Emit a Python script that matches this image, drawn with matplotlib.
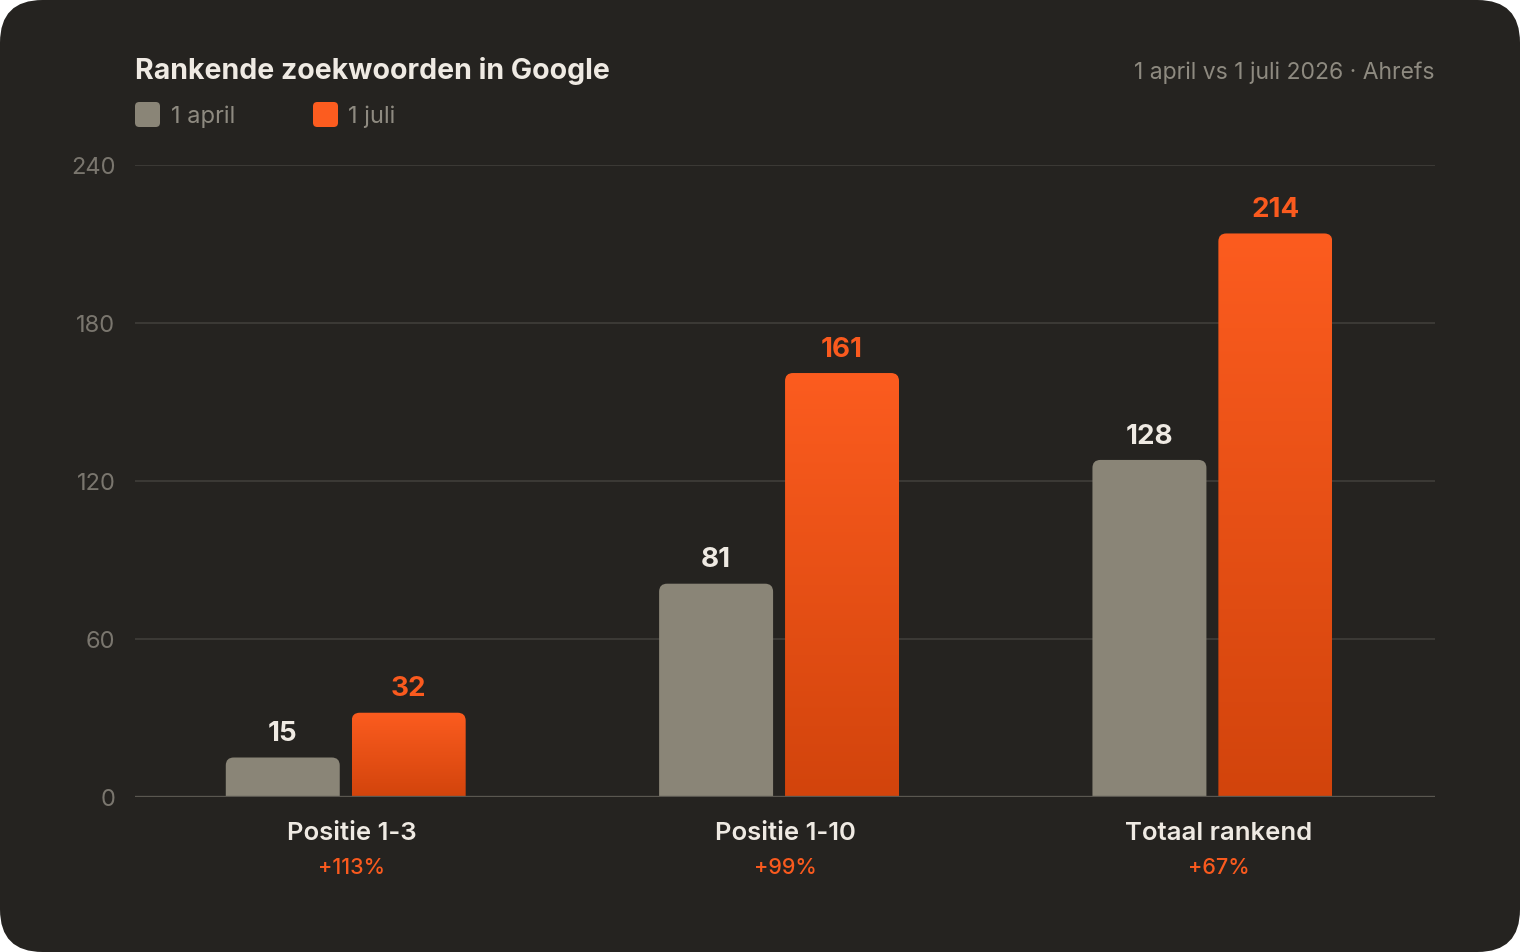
import numpy as np
import matplotlib.pyplot as plt
from matplotlib.patches import FancyBboxPatch, PathPatch
from matplotlib.path import Path
from matplotlib.colors import LinearSegmentedColormap

plt.rcParams['font.family'] = ['Inter', 'DejaVu Sans']

# data
categories = ["Positie 1-3", "Positie 1-10", "Totaal rankend"]
april = [15, 81, 128]
juli = [32, 161, 214]
growth = ["+113%", "+99%", "+67%"]
yticks = [0, 60, 120, 180, 240]

BG = "#252320"
GRAY = "#8A8577"
ORANGE = "#FA5A1E"
TEXT = "#EFEAE3"
MUTED = "#8E8A80"

fig = plt.figure(figsize=(15.2, 9.52), dpi=100, facecolor="white")
# dark card with rounded corners, behind everything
card = FancyBboxPatch((0, 0), 1, 1, boxstyle="round,pad=0,rounding_size=0.028",
                      transform=fig.transFigure, facecolor=BG, edgecolor="none",
                      mutation_aspect=1520 / 952, zorder=-10)
fig.add_artist(card)

ax = fig.add_axes([135 / 1520, 1 - 797 / 952, 1300 / 1520, 632 / 952])
ax.set_facecolor("none")
ax.set_xlim(-0.5, 2.5)
ax.set_ylim(0, 240)

for s in ax.spines.values():
    s.set_visible(False)
ax.set_yticks(yticks)
ax.set_yticklabels([str(t) for t in yticks], fontsize=17, color="#7A766E")
ax.tick_params(axis="y", length=0, pad=14)
ax.set_xticks([])
for t in yticks[1:]:
    ax.axhline(t, color="#3B3935", lw=1.5, zorder=0)
ax.axhline(0, color="#5A5750", lw=2.4, zorder=5)

bw = 0.263
rx = 8 / 433.3
ry = 8 / (632 / 240)
cmap = LinearSegmentedColormap.from_list("og", ["#D2440C", "#FC5C1F"])
grad = np.linspace(0, 1, 256).reshape(-1, 1)


def top_round_bar(x0, x1, h):
    verts = [(x0, 0), (x0, h - ry), (x0, h), (x0 + rx, h), (x1 - rx, h),
             (x1, h), (x1, h - ry), (x1, 0), (x0, 0)]
    codes = [Path.MOVETO, Path.LINETO, Path.CURVE3, Path.CURVE3, Path.LINETO,
             Path.CURVE3, Path.CURVE3, Path.LINETO, Path.CLOSEPOLY]
    return Path(verts, codes)


for i, (a, j) in enumerate(zip(april, juli)):
    # april bar
    xc = i - 0.159
    p = PathPatch(top_round_bar(xc - bw / 2, xc + bw / 2, a), facecolor=GRAY,
                  edgecolor="none", zorder=3)
    ax.add_patch(p)
    ax.annotate(str(a), (xc, a), xytext=(0, 16.8), textcoords="offset points",
                ha="center", va="center", fontsize=20, fontweight="bold", color=TEXT)
    # juli bar with gradient
    xc = i + 0.1316
    p = PathPatch(top_round_bar(xc - bw / 2, xc + bw / 2, j), facecolor="none",
                  edgecolor="none", zorder=3)
    ax.add_patch(p)
    im = ax.imshow(grad, extent=[xc - bw / 2, xc + bw / 2, 0, j], origin="lower",
                   cmap=cmap, aspect="auto", zorder=3)
    im.set_clip_path(p)
    ax.annotate(str(j), (xc, j), xytext=(0, 16.8), textcoords="offset points",
                ha="center", va="center", fontsize=20, fontweight="bold", color=ORANGE)
    # category labels
    ax.annotate(categories[i], (i, 0), xycoords=("data", "axes fraction"),
                xytext=(0, -26), textcoords="offset points", ha="center",
                va="center", fontsize=18.5, fontweight="semibold", color=TEXT)
    ax.annotate(growth[i], (i, 0), xycoords=("data", "axes fraction"),
                xytext=(0, -51.2), textcoords="offset points", ha="center",
                va="center", fontsize=15.5, fontweight="medium", color=ORANGE)

ax.set_xlim(-0.5, 2.5)
ax.set_ylim(0, 240)

# title and subtitle
fig.text(135 / 1520, 1 - 79 / 952, "Rankende zoekwoorden in Google", fontsize=20.5,
         fontweight="bold", color=TEXT, va="baseline", ha="left")
fig.text(1434 / 1520, 1 - 79 / 952, "1 april vs 1 juli 2026 · Ahrefs", fontsize=16.5,
         color=MUTED, va="baseline", ha="right")

# legend
for x, col, lab, tx in [(135, GRAY, "1 april", 171), (313, "#FC5C1F", "1 juli", 348)]:
    sq = FancyBboxPatch((x / 1520, 1 - 127 / 952), 25 / 1520, 25 / 952,
                        boxstyle="round,pad=0,rounding_size=0.0028",
                        mutation_aspect=1520 / 952,
                        transform=fig.transFigure, facecolor=col, edgecolor="none")
    fig.add_artist(sq)
    fig.text(tx / 1520, 1 - 123 / 952, lab, fontsize=17, color=MUTED,
             va="baseline", ha="left")

fig.savefig("out.png", dpi=100, facecolor=fig.get_facecolor())
